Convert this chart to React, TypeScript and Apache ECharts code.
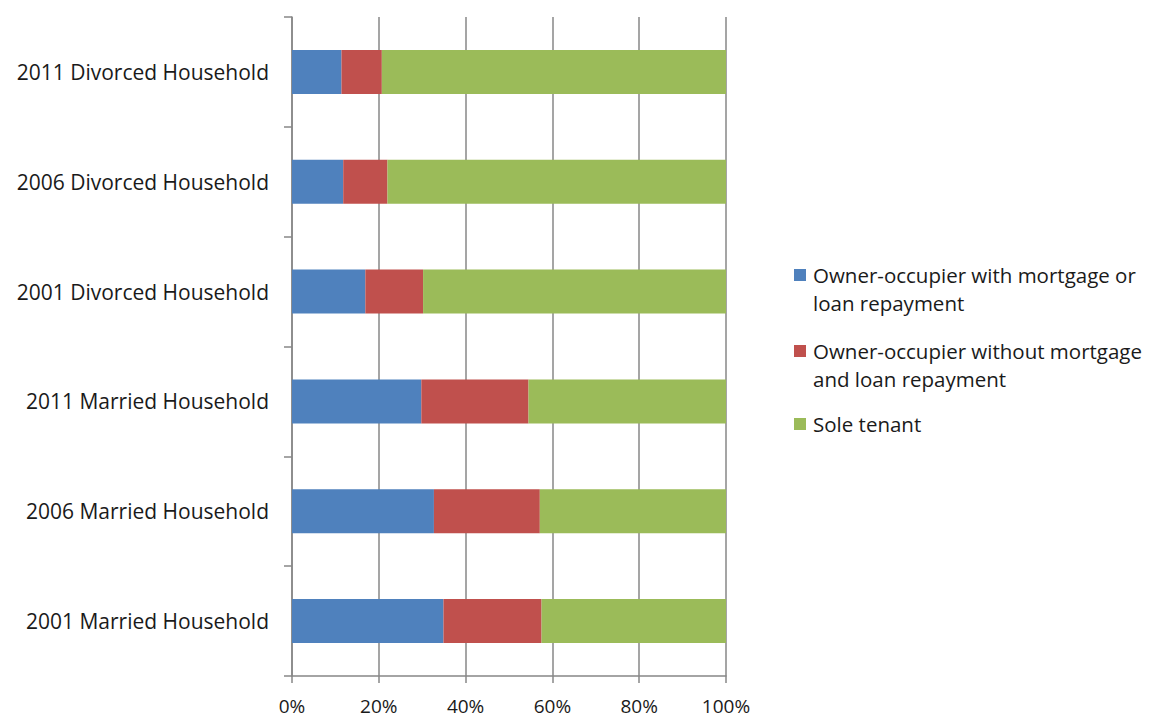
import React, { useEffect, useRef } from "react";
import * as echarts from "echarts";

const categories = [
  "2001 Married Household",
  "2006 Married Household",
  "2011 Married Household",
  "2001 Divorced Household",
  "2006 Divorced Household",
  "2011 Divorced Household",
];
const seriesNames = [
  "Owner-occupier with mortgage or loan repayment",
  "Owner-occupier without mortgage and loan repayment",
  "Sole tenant",
];
const legendLines = [
  ["Owner-occupier with mortgage or", "loan repayment"],
  ["Owner-occupier without mortgage", "and loan repayment"],
  ["Sole tenant"],
];
const withMortgage = [34.9, 32.7, 29.8, 16.9, 11.8, 11.4];
const withoutMortgage = [22.6, 24.4, 24.7, 13.3, 10.2, 9.3];
const soleTenant = [42.5, 42.9, 45.5, 69.8, 78.0, 79.3];
const xTicks = [0, 20, 40, 60, 80, 100];
const colors = ["#4F81BD", "#C0504D", "#9BBB59"];

const FONT = "Open Sans";
const TEXT = "#1a1a1a";
const GRID = "#878787";

export default function App() {
  const ref = useRef<HTMLDivElement>(null);
  useEffect(() => {
    if (!ref.current) return;
    const chart = echarts.init(ref.current, undefined, { renderer: "svg" });
    const data = [withMortgage, withoutMortgage, soleTenant];
    const legendTops = [275, 351, 424];
    const lineH = 28;
    const graphics: any[] = [];
    legendLines.forEach((lines, i) => {
      graphics.push({
        type: "rect",
        left: 794,
        top: legendTops[i] - 6,
        shape: { width: 12, height: 12 },
        style: { fill: colors[i] },
      });
      lines.forEach((ln, j) => {
        graphics.push({
          type: "text",
          x: 813,
          y: legendTops[i] + j * lineH,
          style: {
            text: ln,
            fill: TEXT,
            font: `20.5px "${FONT}"`,
            verticalAlign: "middle",
            align: "left",
          },
        });
      });
    });
    chart.setOption({
      animation: false,
      textStyle: { fontFamily: FONT },
      grid: { left: 292, top: 17, right: 435, bottom: 42, containLabel: false },
      xAxis: {
        type: "value",
        min: xTicks[0],
        max: xTicks[xTicks.length - 1],
        interval: 20,
        axisLine: { show: true, lineStyle: { color: GRID, width: 1.5 } },
        axisTick: { show: true, length: 7, lineStyle: { color: GRID, width: 1.5 } },
        splitLine: { show: true, lineStyle: { color: GRID, width: 1.5 } },
        axisLabel: {
          formatter: "{value}%",
          color: TEXT,
          fontSize: 19,
          lineHeight: 19,
          fontFamily: FONT,
          margin: 20,
        },
      },
      yAxis: {
        type: "category",
        data: categories,
        axisLine: { show: true, lineStyle: { color: GRID, width: 1.5 } },
        axisTick: { show: true, length: 8, interval: 0, lineStyle: { color: GRID, width: 1.5 } },
        axisLabel: {
          color: TEXT,
          fontSize: 21,
          fontFamily: FONT,
          margin: 23,
        },
      },
      series: seriesNames.map((name, i) => ({
        name,
        type: "bar",
        stack: "total",
        data: data[i],
        barCategoryGap: "60%",
        itemStyle: { color: colors[i] },
      })),
      graphic: graphics,
    });
    return () => chart.dispose();
  }, []);
  return <div ref={ref} style={{ width: 1161, height: 718, position: "absolute", left: 0, top: 0 }} />;
}
